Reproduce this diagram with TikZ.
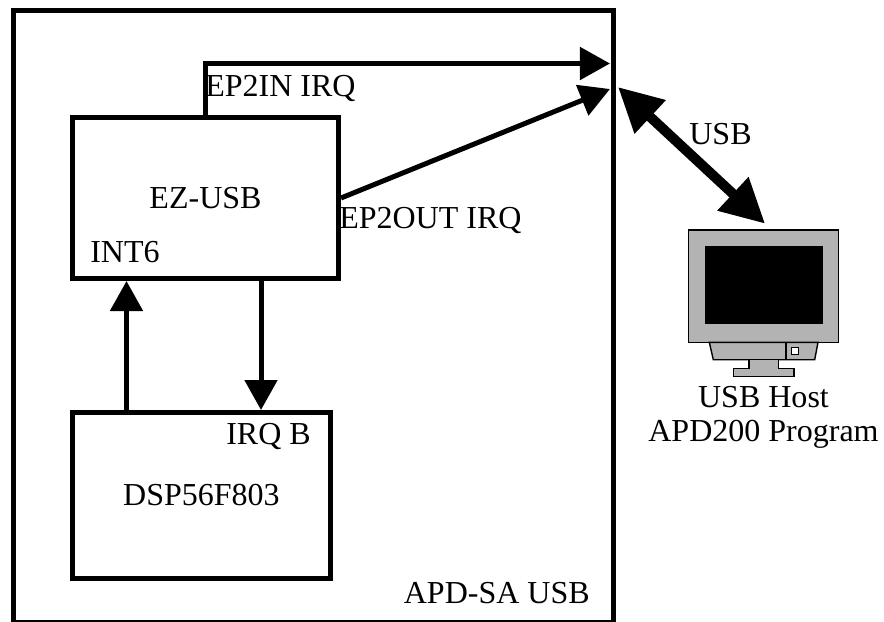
\documentclass[tikz,border=0pt]{standalone}
\usepackage{fontspec}
\setmainfont{Liberation Serif}
\usetikzlibrary{arrows.meta}
\definecolor{monitorgray}{HTML}{B3B3B3}
\begin{document}
\begin{tikzpicture}[x=0.025cm, y=-0.025cm]
    \tikzstyle{box}=[draw, line width=0.125cm, inner sep=0pt]
    \tikzstyle{wire}=[line width=0.125cm, -{Triangle[length=0.75cm, width=0.8cm]}]
    \tikzstyle{usbwire}=[line width=0.25cm, {Triangle[length=1.1cm, width=1.08cm]}-{Triangle[length=1.1cm, width=1.08cm]}]
    \tikzstyle{label}=[inner sep=0pt, font=\fontsize{22.76}{24.2}\selectfont]
    \tikzstyle{case}=[draw, line width=0.035cm, fill=monitorgray, inner sep=0pt]
    \useasboundingbox (0,0) rectangle (884,621);
    \node[box, minimum width=600*0.025cm, minimum height=612*0.025cm] (apdsa) at (313.5,316) {};
    \node[box, minimum width=266*0.025cm, minimum height=161*0.025cm, label] (ezusb) at (205.5,198) {EZ-USB};
    \node[box, minimum width=258*0.025cm, minimum height=166*0.025cm, label] (dsp) at (201.5,495.5) {DSP56F803};
    \coordinate (epinport) at (610,63.5);
    \coordinate (epoutport) at (610,89);
    \coordinate (usbport) at (618,87);
    \coordinate (intline) at (126.5,300);
    \coordinate (irqline) at (261,340);
    % monitor
    \node[case, minimum width=149.6*0.025cm, minimum height=112.3*0.025cm] (monitor) at (763.5,286.15) {};
    \node[fill=black, inner sep=0pt, minimum width=118*0.025cm, minimum height=78*0.025cm] (screen) at (764,285) {};
    \draw[case] (709.3,342.3) -- (818,342.3) -- (814.7,359.7) -- (713.3,359.7) -- cycle;
    \draw[case] (786,342.3) -- (786,359.7);
    \node[draw, fill=white, line width=0.025cm, inner sep=0pt, minimum size=7*0.025cm] (lamp) at (794.8,350.8) {};
    \draw[case] (749,359.7) -- (778.3,359.7) -- (778.3,368.3) -- (794,368.3) -- (794,376.7) -- (733.3,376.7) -- (733.3,368.3) -- (749,368.3) -- cycle;
    % labels
    \node[label, anchor=base west] (epinlabel) at (205,96) {EP2IN IRQ};
    \node[label, anchor=base west] (epoutlabel) at (339,228) {EP2OUT IRQ};
    \node[label, anchor=base west] (intlabel) at (90,262) {INT6};
    \node[label, anchor=base west] (irqlabel) at (226,444) {IRQ B};
    \node[label, anchor=base east] (apdlabel) at (590,603) {APD-SA USB};
    \node[label, anchor=base] (usblabel) at (720.5,144) {USB};
    \node[label, align=center] (hostlabel) at (763.5,417) {USB Host\\APD200 Program};
    % connectors
    \draw[wire] (ezusb.north) |- (epinport);
    \path [wire] (ezusb.east) edge[] (epoutport);
    \path [wire] (intline |- dsp.north) edge[] (intline |- ezusb.south);
    \path [wire] (irqline |- ezusb.south) edge[] (irqline |- dsp.north);
    \path [usbwire] (usbport) edge[] ([xshift=0.04cm, yshift=0.14cm]monitor.north);
\end{tikzpicture}
\end{document}
